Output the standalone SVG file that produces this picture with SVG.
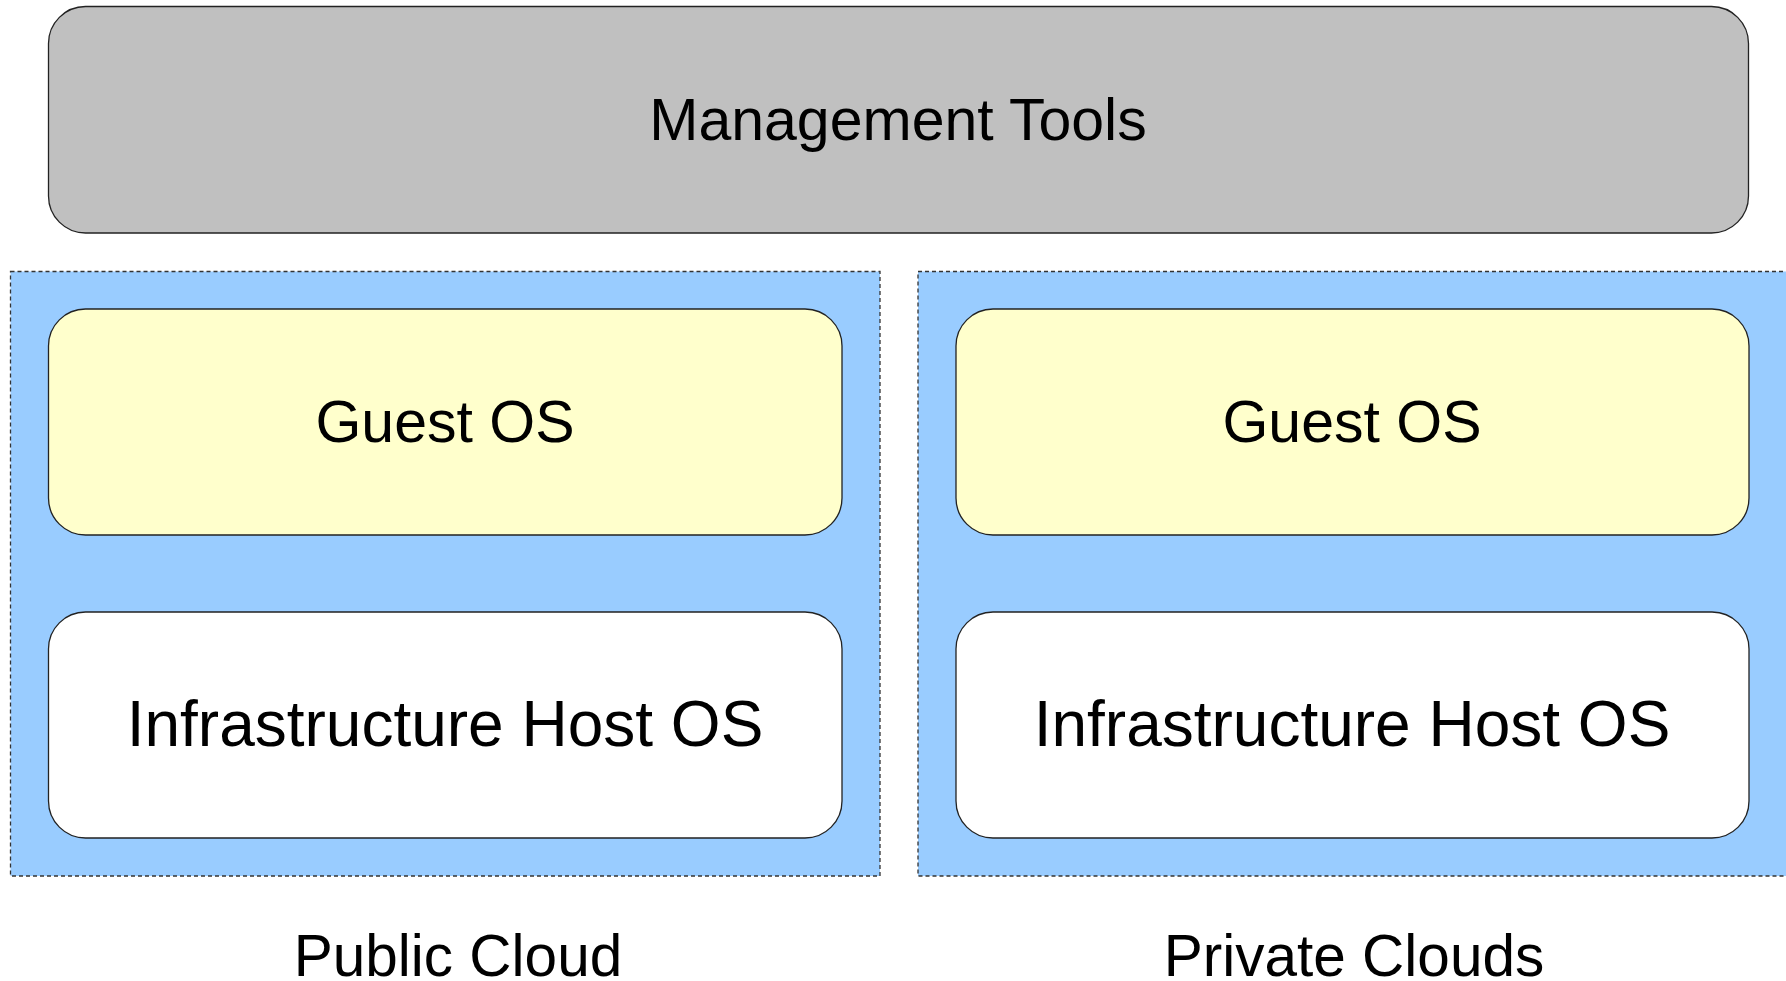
<svg xmlns="http://www.w3.org/2000/svg" width="1786" height="981" viewBox="0 0 1786 981">
<style>
.box{stroke:#222;stroke-width:1.3}
.mgmt{fill:#c0c0c0}
.guest{fill:#ffffcc}
.host{fill:#ffffff}
.cloud{fill:#99ccff;stroke:#333;stroke-width:1.3;stroke-dasharray:4,3}
text{font-family:"Liberation Sans",Arial,sans-serif;fill:#000;text-anchor:middle}
.t{font-size:59px}
.ti{font-size:64px}
.lbl{font-size:58.5px}
</style>
<rect width="1786" height="981" fill="#fff"/>
<g id="public-cloud">
<rect class="cloud" x="10.5" y="271.5" width="869.5" height="604.5"/>
</g>
<g id="private-cloud">
<rect class="cloud" x="918" y="271.5" width="890" height="604.5"/>
</g>
<g id="management-tools">
<rect class="box mgmt" x="48.5" y="6.5" width="1700" height="226.5" rx="37" ry="37"/>
<text class="t" x="898" y="140">Management Tools</text>
</g>
<g id="guest-os-public">
<rect class="box guest" x="48.5" y="309" width="793.5" height="226" rx="37" ry="37"/>
<text class="t" x="445" y="442">Guest OS</text>
</g>
<g id="host-os-public">
<rect class="box host" x="48.5" y="612" width="793.5" height="226" rx="37" ry="37"/>
<text class="ti" x="445" y="746">Infrastructure Host OS</text>
</g>
<g id="guest-os-private">
<rect class="box guest" x="956" y="309" width="793" height="226" rx="37" ry="37"/>
<text class="t" x="1352" y="442">Guest OS</text>
</g>
<g id="host-os-private">
<rect class="box host" x="956" y="612" width="793" height="226" rx="37" ry="37"/>
<text class="ti" x="1352" y="746">Infrastructure Host OS</text>
</g>
<g id="labels">
<text class="lbl" x="458" y="976">Public Cloud</text>
<text class="lbl" x="1354" y="976">Private Clouds</text>
</g>
<g id="connectors"></g>
</svg>
